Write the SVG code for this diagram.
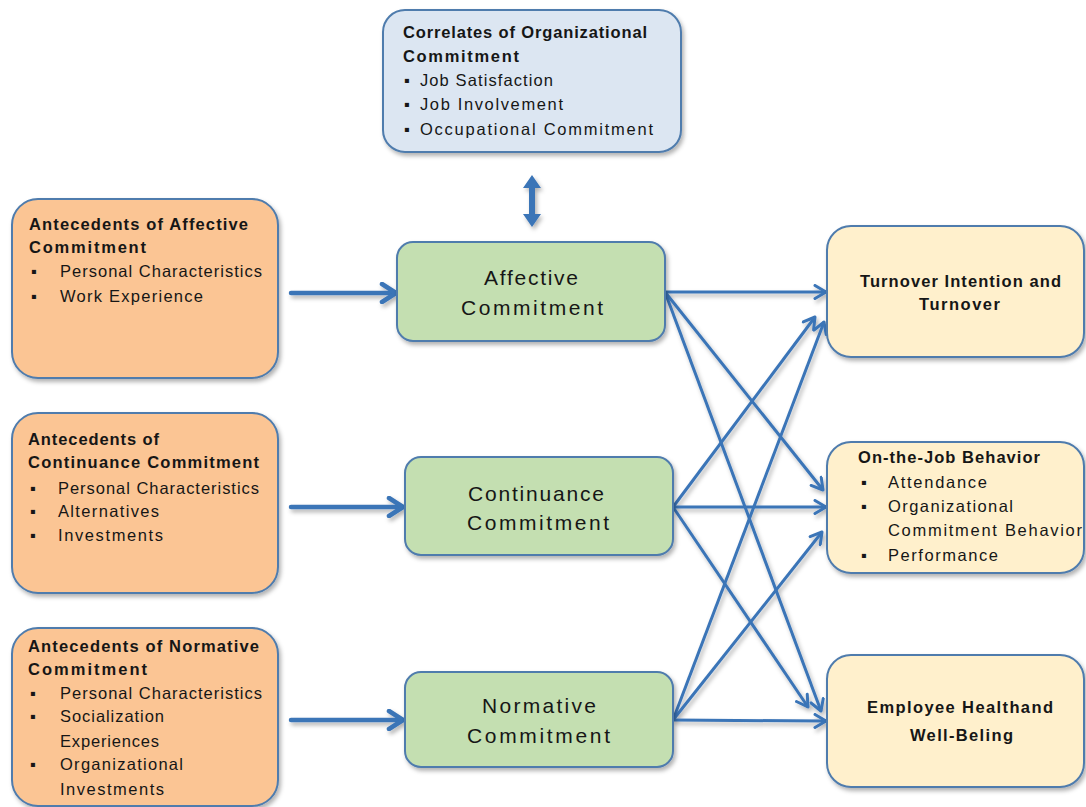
<svg xmlns="http://www.w3.org/2000/svg" width="1086" height="807" viewBox="0 0 1086 807">
  <defs>
    <filter id="shadow" x="-10%" y="-10%" width="130%" height="130%">
      <feDropShadow dx="2" dy="3" stdDeviation="2" flood-color="#000" flood-opacity="0.3"/>
    </filter>
    <marker id="openArrow" markerUnits="userSpaceOnUse" markerWidth="16" markerHeight="16" viewBox="0 0 16 16" refX="13" refY="8" orient="auto">
      <path d="M2,1.5 L13,8 L2,14.5" fill="none" stroke="#3a74b7" stroke-width="3" stroke-linecap="round" stroke-linejoin="round"/>
    </marker>
    <marker id="thickArrow" markerUnits="userSpaceOnUse" markerWidth="20" markerHeight="22" viewBox="0 0 20 22" refX="17" refY="11" orient="auto">
      <path d="M3,2 L17,11 L3,20" fill="none" stroke="#3a74b7" stroke-width="4.5" stroke-linecap="round" stroke-linejoin="round"/>
    </marker>
  </defs>
  <style>
    .box { stroke: #4f7cad; stroke-width: 2; filter: url(#shadow); }
    .blue { fill: #dce6f2; }
    .orange { fill: #fbc594; }
    .green { fill: #c4dfb1; }
    .yellow { fill: #fff0cc; }
    text { font-family: "Liberation Sans", Arial, sans-serif; fill: #161616; }
    .b { font-weight: bold; font-size: 16.5px; }
    .r { font-size: 16.5px; }
    .c { font-size: 21px; }
    .conn { stroke: #3a74b7; stroke-width: 3; fill: none; marker-end: url(#openArrow); }
    .thick { stroke: #3a74b7; stroke-width: 4.5; fill: none; marker-end: url(#thickArrow); stroke-linecap: round; }
  </style>
  <rect width="1086" height="807" fill="#ffffff"/>

  <!-- connectors -->
  <g id="connectors" filter="url(#shadow)">
    <line class="thick" x1="291" y1="293" x2="396" y2="293"/>
    <line class="thick" x1="291" y1="507" x2="403" y2="507"/>
    <line class="thick" x1="291" y1="720" x2="403" y2="720"/>
    <!-- two-way link to correlates -->
    <polygon points="532,175 541,188 535,188 535,214 541,214 532,227 523,214 529,214 529,188 523,188" fill="#3a74b7"/>
    <!-- affective outputs -->
    <line class="conn" x1="665" y1="292" x2="826" y2="292"/>
    <line class="conn" x1="665" y1="292" x2="823" y2="490"/>
    <line class="conn" x1="665" y1="292" x2="821" y2="711"/>
    <!-- continuance outputs -->
    <line class="conn" x1="673" y1="507" x2="815" y2="317"/>
    <line class="conn" x1="673" y1="507" x2="826" y2="507"/>
    <line class="conn" x1="673" y1="507" x2="808" y2="707"/>
    <!-- normative outputs -->
    <line class="conn" x1="673" y1="720" x2="824" y2="322"/>
    <line class="conn" x1="673" y1="720" x2="822" y2="532"/>
    <line class="conn" x1="673" y1="720" x2="826" y2="721"/>
  </g>

  <g id="correlates">
    <rect class="box blue" x="383" y="10" width="298" height="142" rx="22"/>
    <text class="b" x="403" y="38" textLength="244">Correlates of Organizational</text>
    <text class="b" x="403" y="62" textLength="116">Commitment</text>
    <text class="b" x="404" y="86">▪</text>
    <text class="r" x="420" y="86" textLength="133">Job Satisfaction</text>
    <text class="b" x="404" y="110">▪</text>
    <text class="r" x="420" y="110" textLength="143">Job Involvement</text>
    <text class="b" x="404" y="135">▪</text>
    <text class="r" x="420" y="135" textLength="233">Occupational Commitment</text>
  </g>

  <g id="antecedents-affective">
    <rect class="box orange" x="12" y="199" width="266" height="179" rx="26"/>
    <text class="b" x="29" y="230" textLength="219">Antecedents of Affective</text>
    <text class="b" x="29" y="253" textLength="117">Commitment</text>
    <text class="b" x="31" y="277">▪</text>
    <text class="r" x="60" y="277" textLength="202">Personal Characteristics</text>
    <text class="b" x="31" y="302">▪</text>
    <text class="r" x="60" y="302" textLength="143">Work Experience</text>
  </g>

  <g id="antecedents-continuance">
    <rect class="box orange" x="12" y="413" width="266" height="180" rx="26"/>
    <text class="b" x="28" y="445" textLength="131">Antecedents of</text>
    <text class="b" x="28" y="468" textLength="231">Continuance Commitment</text>
    <text class="b" x="30" y="494">▪</text>
    <text class="r" x="58" y="494" textLength="201">Personal Characteristics</text>
    <text class="b" x="30" y="517">▪</text>
    <text class="r" x="58" y="517" textLength="101">Alternatives</text>
    <text class="b" x="30" y="541">▪</text>
    <text class="r" x="58" y="541" textLength="105">Investments</text>
  </g>

  <g id="antecedents-normative">
    <rect class="box orange" x="12" y="628" width="266" height="178" rx="26"/>
    <text class="b" x="28" y="652" textLength="231">Antecedents of Normative</text>
    <text class="b" x="28" y="675" textLength="119">Commitment</text>
    <text class="b" x="30" y="699">▪</text>
    <text class="r" x="60" y="699" textLength="202">Personal Characteristics</text>
    <text class="b" x="30" y="722">▪</text>
    <text class="r" x="60" y="722" textLength="104">Socialization</text>
    <text class="r" x="60" y="747" textLength="99">Experiences</text>
    <text class="b" x="30" y="770">▪</text>
    <text class="r" x="60" y="770" textLength="123">Organizational</text>
    <text class="r" x="60" y="795" textLength="104">Investments</text>
  </g>

  <g id="affective">
    <rect class="box green" x="397" y="242" width="268" height="99" rx="16"/>
    <text class="c" x="484" y="285" textLength="94">Affective</text>
    <text class="c" x="461" y="315" textLength="142">Commitment</text>
  </g>

  <g id="continuance">
    <rect class="box green" x="405" y="457" width="268" height="98" rx="16"/>
    <text class="c" x="468" y="501" textLength="136">Continuance</text>
    <text class="c" x="467" y="530" textLength="142">Commitment</text>
  </g>

  <g id="normative">
    <rect class="box green" x="405" y="672" width="268" height="95" rx="16"/>
    <text class="c" x="482" y="713" textLength="114">Normative</text>
    <text class="c" x="467" y="743" textLength="143">Commitment</text>
  </g>

  <g id="turnover">
    <rect class="box yellow" x="827" y="226" width="257" height="131" rx="24"/>
    <text class="b" x="860" y="287" textLength="201">Turnover Intention and</text>
    <text class="b" x="919" y="310" textLength="81">Turnover</text>
  </g>

  <g id="on-the-job">
    <rect class="box yellow" x="827" y="442" width="257" height="131" rx="24"/>
    <text class="b" x="858" y="463" textLength="182">On-the-Job Behavior</text>
    <text class="b" x="861" y="488">▪</text>
    <text class="r" x="888" y="488" textLength="99">Attendance</text>
    <text class="b" x="861" y="512">▪</text>
    <text class="r" x="888" y="512" textLength="125">Organizational</text>
    <text class="r" x="888" y="536" textLength="194">Commitment Behavior</text>
    <text class="b" x="861" y="561">▪</text>
    <text class="r" x="888" y="561" textLength="110">Performance</text>
  </g>

  <g id="health">
    <rect class="box yellow" x="827" y="655" width="257" height="132" rx="24"/>
    <text class="b" x="867" y="713" textLength="186">Employee Healthand</text>
    <text class="b" x="910" y="741" textLength="103">Well-Beling</text>
  </g>
</svg>
